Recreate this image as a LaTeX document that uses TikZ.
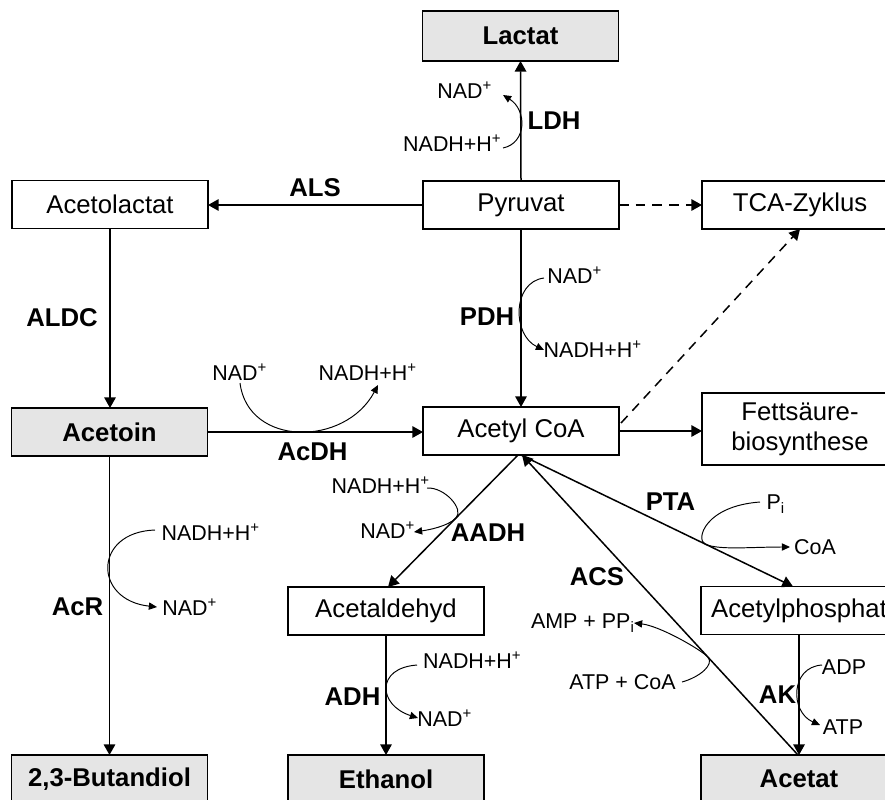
\documentclass[tikz,border=0pt]{standalone}
\usepackage{fontspec}
\setmainfont{Liberation Sans}
\usetikzlibrary{arrows.meta,calc}

\begin{document}
\begin{tikzpicture}[
  x=0.46667pt, y=-0.46667pt,
  box/.style={draw, line width=0.8pt, minimum width=91.47pt, minimum height=22.4pt,
    inner sep=0pt, outer sep=0pt, align=center, font=\fontsize{12}{14}\selectfont},
  endbox/.style={box, fill=gray!20, font=\fontsize{12}{14}\selectfont\bfseries},
  enz/.style={inner sep=0pt, font=\fontsize{12}{14}\selectfont\bfseries},
  cof/.style={inner sep=0pt, font=\fontsize{10}{12}\selectfont},
  flux/.style={line width=0.7pt, -{Triangle[length=5pt,width=5.4pt]}},
  sideflux/.style={flux, dash pattern=on 4.5pt off 3.3pt},
  aux/.style={line width=0.45pt, -{Triangle[length=3.8pt,width=3.4pt]}}
]
\useasboundingbox (0,0) rectangle (885,799);
\clip (0,0) rectangle (885,799);

% metabolites
\node[endbox, minimum height=23.3pt] (lac) at (520.5,36) {Lactat};
\node[box] (pyr) at (521,205) {Pyruvat};
\node[box] (tca) at (800,205) {TCA-Zyklus};
\node[box] (alac) at (110,204.5) {Acetolactat};
\node[endbox] (acn) at (109.5,432) {Acetoin};
\node[box] (acoa) at (521,431) {Acetyl CoA};
\node[box, minimum height=33.6pt] (fas) at (800,429) {Fettsäure-\\biosynthese};
\node[box] (acald) at (386,611) {Acetaldehyd};
\node[box] (acp) at (799,610.5) {Acetylphosphat};
\node[endbox] (btd) at (109.5,779) {2,3-Butandiol};
\node[endbox] (eth) at (386,779) {Ethanol};
\node[endbox] (ace) at (799,779) {Acetat};

% main fluxes
\draw[flux] (pyr.north) -- (lac.south);
\draw[flux] (pyr.west) -- (pyr.west -| alac.east);
\draw[sideflux] (pyr.east) -- (tca.west);
\draw[flux] (pyr.south) -- (acoa.north);
\draw[flux] (alac.south) -- (alac.south |- acn.north);
\draw[flux] (acn.east) -- (acn.east -| acoa.west);
\draw[flux] (acoa.east) -- (acoa.east -| fas.west);
\draw[sideflux] ($(acoa.east)+(2,-8)$) -- (tca.south);
\draw[flux] (acn.south) -- (btd.north);
\draw[flux] ($(acoa.south)+(-3,0)$) -- ($(acald.north)+(2,0)$);
\draw[flux] (acoa.south) -- ($(acp.north)+(-6,0)$);
\draw[flux] ($(ace.north)+(-1,0)$) -- ($(acoa.south)+(1,0)$);
\draw[flux] (acald.south) -- (eth.north);
\draw[flux] (acp.south) -- (ace.north);

% enzymes
\node[enz] (ldh) at (554,121) {LDH};
\node[enz] (als) at (315,188) {ALS};
\node[enz] (pdh) at (487,317) {PDH};
\node[enz] (aldc) at (62,318) {ALDC};
\node[enz] (acdh) at (312.5,452) {AcDH};
\node[enz] (aadh) at (488,533) {AADH};
\node[enz] (pta) at (670.5,502) {PTA};
\node[enz] (acs) at (597,577) {ACS};
\node[enz] (acr) at (77.5,607) {AcR};
\node[enz] (adh) at (352.5,697) {ADH};
\node[enz] (ak) at (777.5,695) {AK};

% cofactors
\node[cof] (ldhout) at (465,90) {NAD\textsuperscript{+}};
\node[cof] (ldhin) at (452.5,143) {NADH+H\textsuperscript{+}};
\node[cof] (pdhin) at (575,275) {NAD\textsuperscript{+}};
\node[cof] (pdhout) at (593,349) {NADH+H\textsuperscript{+}};
\node[cof] (acdhin) at (240,372) {NAD\textsuperscript{+}};
\node[cof] (acdhout) at (368,372) {NADH+H\textsuperscript{+}};
\node[cof] (aadhin) at (381,485) {NADH+H\textsuperscript{+}};
\node[cof] (aadhout) at (388,530) {NAD\textsuperscript{+}};
\node[cof] (ptain) at (776,504) {P\textsubscript{i}};
\node[cof] (ptaout) at (815,547) {CoA};
\node[cof] (acsout) at (583,623) {AMP + PP\textsubscript{i}};
\node[cof] (acsin) at (622.5,682) {ATP + CoA};
\node[cof] (acrin) at (211,532) {NADH+H\textsuperscript{+}};
\node[cof] (acrout) at (190,607) {NAD\textsuperscript{+}};
\node[cof] (adhin) at (472.5,660) {NADH+H\textsuperscript{+}};
\node[cof] (adhout) at (445,718) {NAD\textsuperscript{+}};
\node[cof] (akin) at (844,667) {ADP};
\node[cof] (akout) at (843,727) {ATP};

% cofactor arrow ends
\coordinate (ldhA) at (503,148);   \coordinate (ldhB) at (503,95);
\coordinate (pdhA) at (544,278);   \coordinate (pdhB) at (544,350);
\coordinate (acdhA) at (240,383);  \coordinate (acdhB) at (378,385);
\coordinate (aadhA) at (427,488);  \coordinate (aadhT) at (456,518);  \coordinate (aadhB) at (414,532);
\coordinate (ptaA) at (760,502);   \coordinate (ptaT) at (705,544);   \coordinate (ptaB) at (790,547);
\coordinate (acsA) at (682,682);   \coordinate (acsT) at (707.8,657); \coordinate (acsB) at (634,623);
\coordinate (acrA) at (155,530);   \coordinate (acrB) at (157,607);
\coordinate (adhA) at (417,665);   \coordinate (adhB) at (418,718);
\coordinate (akA) at (822,665);    \coordinate (akB) at (820,725);

% cofactor curves
\draw[aux] (ldhA) .. controls (527,143) and (527,110) .. (ldhB);
\draw[aux] (pdhA) .. controls (512,282) and (512,335) .. (pdhB);
\draw[aux] (acdhA) .. controls (248,447) and (345,447) .. (acdhB);
\draw[aux] (aadhA) .. controls (445,487) and (464.4,509.5) .. (aadhT)
  .. controls (447.6,526.5) and (428,530) .. (aadhB);
\draw[aux] (ptaA) .. controls (705,506) and (695.5,539.4) .. (ptaT)
  .. controls (718,550.3) and (750,547) .. (ptaB);
\draw[aux] (acsA) .. controls (700,677) and (714.6,664.4) .. (acsT)
  .. controls (701,649.6) and (660,626) .. (acsB);
\draw[aux] (acrA) .. controls (93,532) and (93,600) .. (acrB);
\draw[aux] (adhA) .. controls (375.5,668) and (378,705) .. (adhB);
\draw[aux] (akA) .. controls (790,667) and (790,712) .. (akB);
\end{tikzpicture}
\end{document}
